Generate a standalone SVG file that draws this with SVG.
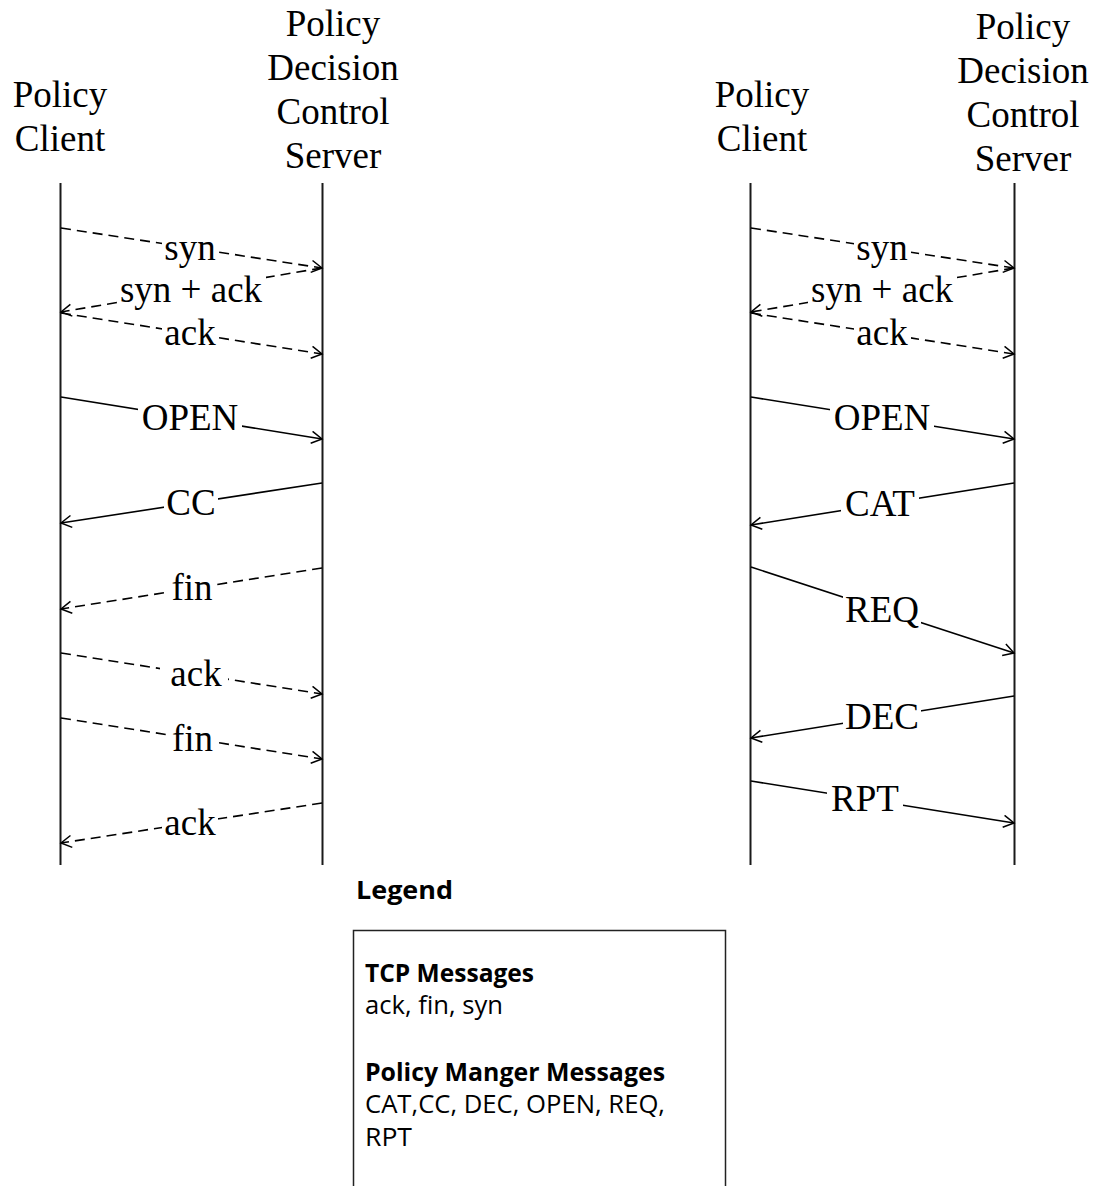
<svg xmlns="http://www.w3.org/2000/svg" width="1103" height="1186" viewBox="0 0 1103 1186">
  <defs>
    <style>
      .hdr { font-family: "Liberation Serif", "Times New Roman", serif; font-size: 37px; fill: #000; text-anchor: middle; }
      .lbl { font-family: "Liberation Serif", "Times New Roman", serif; font-size: 37px; fill: #000; text-anchor: middle; }
      .life { stroke: #1a1a1a; stroke-width: 2; fill: none; }
      .msg { stroke: #000; stroke-width: 1.6; fill: none; marker-end: url(#open-arrow); }
      .tcp { stroke-dasharray: 10 6; }
      .gap { fill: #fff; }
      .leg { font-family: "Open Sans", "Liberation Sans", sans-serif; font-size: 25px; fill: #000; }
      .legb { font-weight: bold; }
    </style>
    <marker id="open-arrow" markerUnits="userSpaceOnUse" markerWidth="16" markerHeight="16" refX="12" refY="7" orient="auto">
      <path d="M1.5,1 L12,7 L1.5,13" fill="none" stroke="#000" stroke-width="1.5"/>
    </marker>
  </defs>

  <rect width="1103" height="1186" fill="#fff"/>

  <!-- Left exchange: connection setup, OPEN/CC, teardown -->
  <g id="client-left">
    <text class="hdr" x="60" y="107">Policy</text>
    <text class="hdr" x="60" y="151">Client</text>
    <line class="life" x1="60.5" y1="183" x2="60.5" y2="865"/>
  </g>
  <g id="server-left">
    <text class="hdr" x="333" y="36">Policy</text>
    <text class="hdr" x="333" y="80">Decision</text>
    <text class="hdr" x="333" y="124">Control</text>
    <text class="hdr" x="333" y="168">Server</text>
    <line class="life" x1="322.5" y1="183" x2="322.5" y2="865"/>
  </g>

  <!-- Right exchange: setup, OPEN/CAT, REQ/DEC/RPT -->
  <g id="client-right">
    <text class="hdr" x="762" y="107">Policy</text>
    <text class="hdr" x="762" y="151">Client</text>
    <line class="life" x1="750.5" y1="183" x2="750.5" y2="865"/>
  </g>
  <g id="server-right">
    <text class="hdr" x="1023" y="39">Policy</text>
    <text class="hdr" x="1023" y="83">Decision</text>
    <text class="hdr" x="1023" y="127">Control</text>
    <text class="hdr" x="1023" y="171">Server</text>
    <line class="life" x1="1014.5" y1="183" x2="1014.5" y2="865"/>
  </g>

  <g id="connectors">
    <!-- left side lines -->
    <line class="msg tcp" x1="61" y1="228" x2="322" y2="268"/>
    <line class="msg tcp" x1="322" y1="268" x2="61" y2="312"/>
    <line class="msg tcp" x1="61" y1="313" x2="322" y2="354"/>
    <line class="msg" x1="61" y1="397" x2="322" y2="439"/>
    <line class="msg" x1="322" y1="483" x2="61" y2="523"/>
    <line class="msg tcp" x1="322" y1="568" x2="61" y2="609"/>
    <line class="msg tcp" x1="61" y1="653" x2="322" y2="694"/>
    <line class="msg tcp" x1="61" y1="718" x2="322" y2="759"/>
    <line class="msg tcp" x1="322" y1="803" x2="61" y2="843"/>

    <!-- right side lines -->
    <line class="msg tcp" x1="751" y1="228" x2="1014" y2="268"/>
    <line class="msg tcp" x1="1014" y1="268" x2="751" y2="312"/>
    <line class="msg tcp" x1="751" y1="313" x2="1014" y2="354"/>
    <line class="msg" x1="751" y1="397" x2="1014" y2="439"/>
    <line class="msg" x1="1014" y1="483" x2="751" y2="525"/>
    <line class="msg" x1="751" y1="567" x2="1014" y2="653"/>
    <line class="msg" x1="1014" y1="696" x2="751" y2="738"/>
    <line class="msg" x1="751" y1="781" x2="1014" y2="823"/>

    <!-- white boxes that break each line behind its label -->
    <rect class="gap" x="162" y="232" width="57" height="32"/>
    <rect class="gap" x="117" y="274" width="149" height="32"/>
    <rect class="gap" x="162" y="317" width="57" height="32"/>
    <rect class="gap" x="138" y="402" width="104" height="32"/>
    <rect class="gap" x="164" y="487" width="54" height="32"/>
    <rect class="gap" x="169" y="572" width="47" height="32"/>
    <rect class="gap" x="160" y="658" width="68" height="32"/>
    <rect class="gap" x="169" y="723" width="47" height="32"/>
    <rect class="gap" x="162" y="807" width="56" height="32"/>

    <rect class="gap" x="854" y="232" width="57" height="32"/>
    <rect class="gap" x="808" y="274" width="149" height="32"/>
    <rect class="gap" x="854" y="317" width="57" height="32"/>
    <rect class="gap" x="830" y="402" width="104" height="32"/>
    <rect class="gap" x="841" y="488" width="78" height="32"/>
    <rect class="gap" x="843" y="591" width="78" height="38"/>
    <rect class="gap" x="843" y="701" width="78" height="32"/>
    <rect class="gap" x="827" y="783" width="76" height="32"/>

    <!-- labels -->
    <text class="lbl" x="190" y="260">syn</text>
    <text class="lbl" x="191" y="302">syn + ack</text>
    <text class="lbl" x="190" y="345">ack</text>
    <text class="lbl" x="190" y="430">OPEN</text>
    <text class="lbl" x="191" y="515">CC</text>
    <text class="lbl" x="192" y="600">fin</text>
    <text class="lbl" x="196" y="686">ack</text>
    <text class="lbl" x="192.5" y="751">fin</text>
    <text class="lbl" x="190" y="835">ack</text>

    <text class="lbl" x="882" y="260">syn</text>
    <text class="lbl" x="882" y="302">syn + ack</text>
    <text class="lbl" x="882" y="345">ack</text>
    <text class="lbl" x="882" y="430">OPEN</text>
    <text class="lbl" x="880" y="516">CAT</text>
    <text class="lbl" x="882" y="622">REQ</text>
    <text class="lbl" x="882" y="729">DEC</text>
    <text class="lbl" x="865" y="811">RPT</text>
  </g>

  <!-- Legend -->
  <g id="legend">
    <text class="leg legb" x="356" y="899" font-size="26" textLength="97" lengthAdjust="spacingAndGlyphs">Legend</text>
    <rect x="353.5" y="930.5" width="372" height="300" fill="none" stroke="#222" stroke-width="1.5"/>
    <text class="leg legb" x="365" y="982" textLength="169" lengthAdjust="spacingAndGlyphs">TCP Messages</text>
    <text class="leg" x="365" y="1014" textLength="138" lengthAdjust="spacingAndGlyphs">ack, fin, syn</text>
    <text class="leg legb" x="365" y="1081" textLength="300" lengthAdjust="spacingAndGlyphs">Policy Manger Messages</text>
    <text class="leg" x="365" y="1113" textLength="300" lengthAdjust="spacingAndGlyphs">CAT,CC, DEC, OPEN, REQ,</text>
    <text class="leg" x="365" y="1146" textLength="47" lengthAdjust="spacingAndGlyphs">RPT</text>
  </g>
</svg>
